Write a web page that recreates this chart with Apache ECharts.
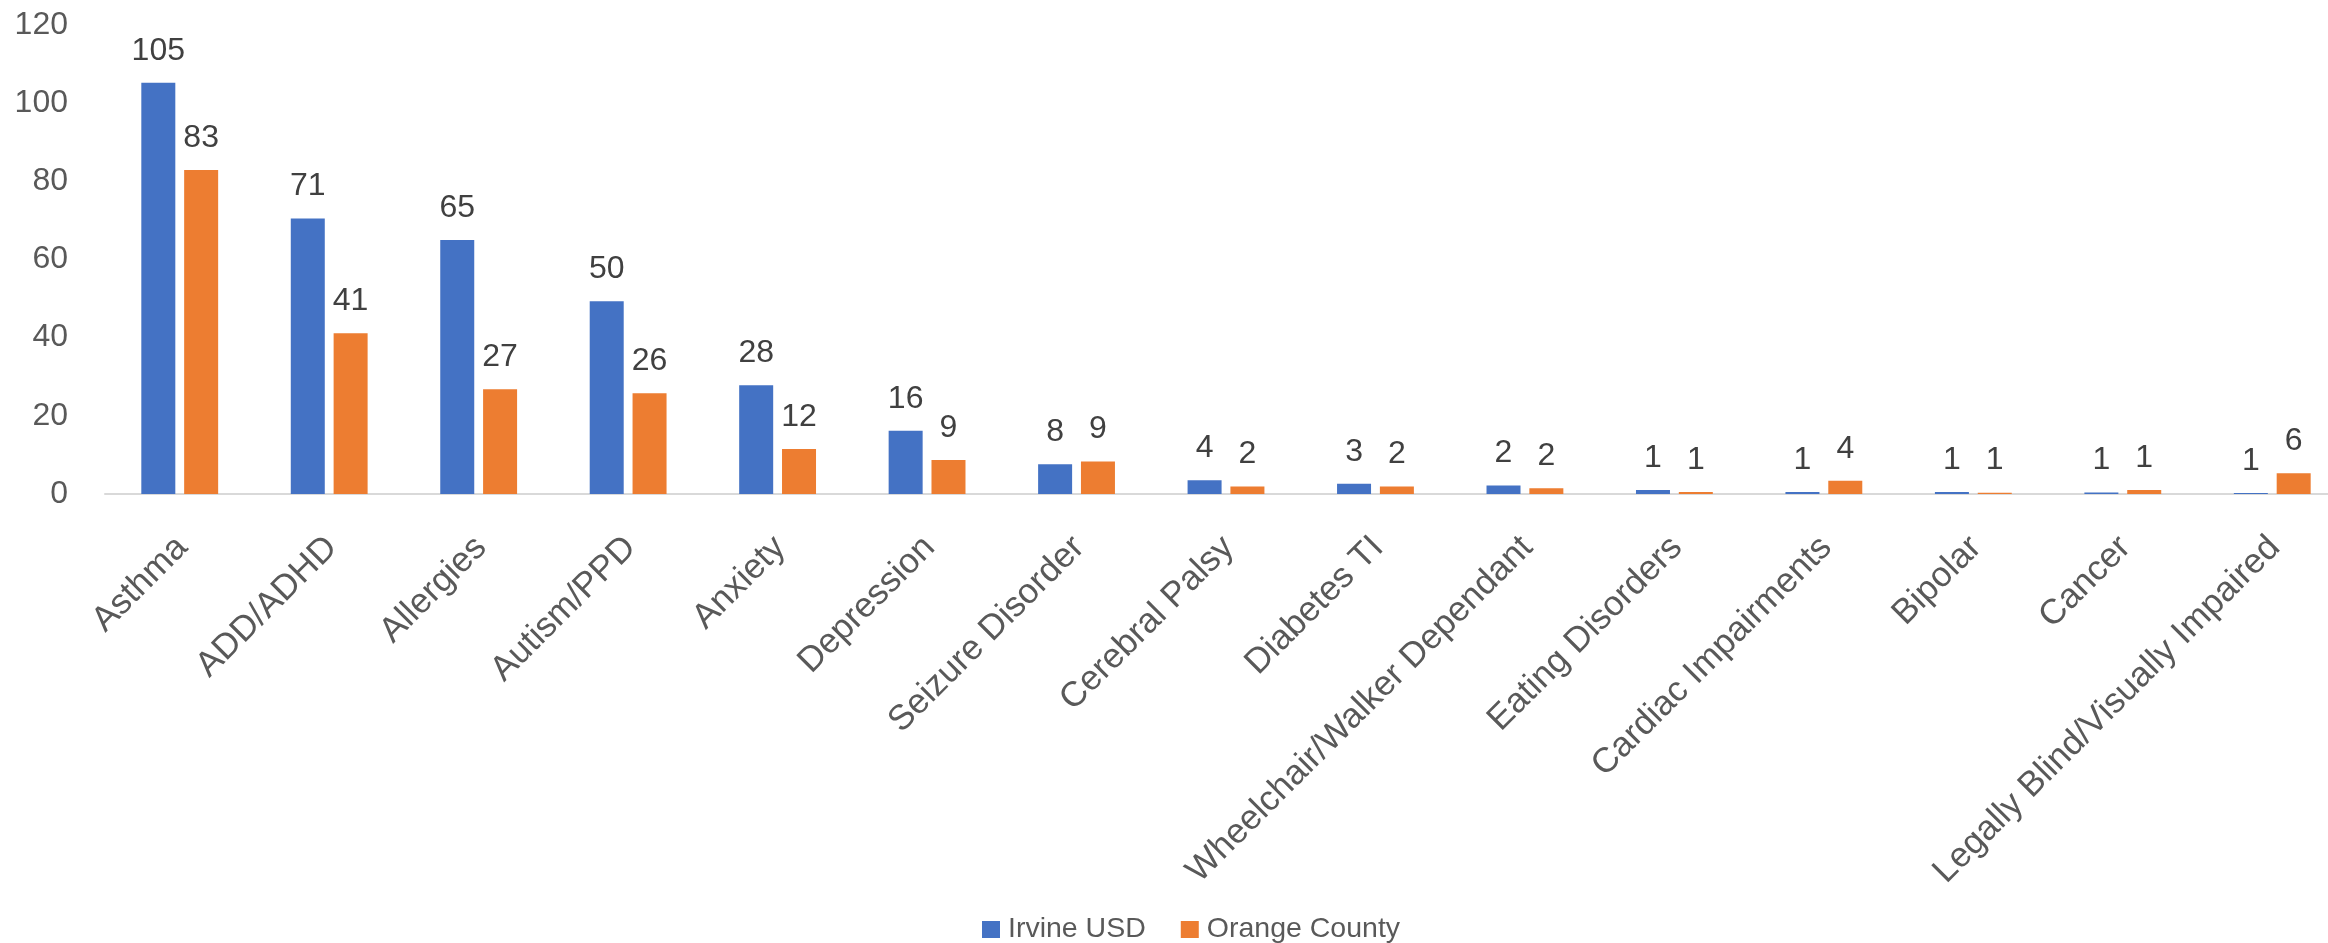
<!DOCTYPE html>
<html>
<head>
<meta charset="utf-8">
<script src="https://cdn.jsdelivr.net/npm/echarts@6/dist/echarts.min.js"></script>
<style>
html,body{margin:0;padding:0;background:#fff;overflow:hidden;width:2328px;height:943px;}
#chart{width:2347px;height:943px;}
</style>
</head>
<body>
<div id="chart"></div>
<script>
const categories = ['Asthma','ADD/ADHD','Allergies','Autism/PPD','Anxiety','Depression','Seizure Disorder','Cerebral Palsy','Diabetes TI','Wheelchair/Walker Dependant','Eating Disorders','Cardiac Impairments','Bipolar','Cancer','Legally Blind/Visually Impaired'];
const seriesNames = ['Irvine USD','Orange County'];
const irvineValues = [105.2,70.5,65.0,49.3,27.8,16.2,7.6,3.5,2.6,2.2,1.0,0.5,0.5,0.4,0.25];
const orangeValues = [82.9,41.1,26.8,25.8,11.5,8.7,8.3,1.9,1.9,1.45,0.5,3.4,0.35,1.0,5.3];
const irvineLabels = [105,71,65,50,28,16,8,4,3,2,1,1,1,1,1];
const orangeLabels = [83,41,27,26,12,9,9,2,2,2,1,4,1,1,6];
const yTicks = [0,20,40,60,80,100,120];

const FONT = '"Liberation Sans", Arial, sans-serif';
const chart = echarts.init(document.getElementById('chart'), null, {renderer:'canvas'});

function mkSeries(name, values, labels, color){
  return {
    name: name,
    type: 'bar',
    data: values,
    barWidth: 34,
    barGap: '26%',
    itemStyle: {color: color},
    label: {
      show: true,
      position: 'top',
      distance: 16,
      fontFamily: FONT,
      fontSize: 32,
      color: '#404040',
      formatter: p => String(labels[p.dataIndex])
    },
    animation: false
  };
}

chart.setOption({
  animation: false,
  backgroundColor: '#ffffff',
  grid: {left: 105, right: 0, top: 25, height: 469, containLabel: false},
  legend: {
    data: seriesNames,
    left: 982,
    top: 915,
    padding: 0,
    itemWidth: 18,
    itemHeight: 17,
    itemGap: 35,
    icon: 'rect',
    textStyle: {fontFamily: FONT, fontSize: 28.5, color: '#595959', padding: [0,0,0,3]}
  },
  xAxis: {
    type: 'category',
    data: categories,
    axisLine: {show: true, lineStyle: {color: '#D9D9D9', width: 2}},
    axisTick: {show: false},
    axisLabel: {
      rotate: 45,
      interval: 0,
      margin: 26,
      align: 'right',
      verticalAlign: 'top',
      padding: [0, 14, 0, 0],
      fontFamily: FONT,
      fontSize: 35,
      color: '#595959'
    },
    splitLine: {show: false}
  },
  yAxis: {
    type: 'value',
    min: yTicks[0],
    max: yTicks[yTicks.length-1],
    interval: yTicks[1]-yTicks[0],
    axisLine: {show: false},
    axisTick: {show: false},
    splitLine: {show: false},
    axisLabel: {margin: 37, fontFamily: FONT, fontSize: 32, color: '#595959'}
  },
  series: [
    mkSeries(seriesNames[0], irvineValues, irvineLabels, '#4472C4'),
    mkSeries(seriesNames[1], orangeValues, orangeLabels, '#ED7D31')
  ]
});
</script>
</body>
</html>
